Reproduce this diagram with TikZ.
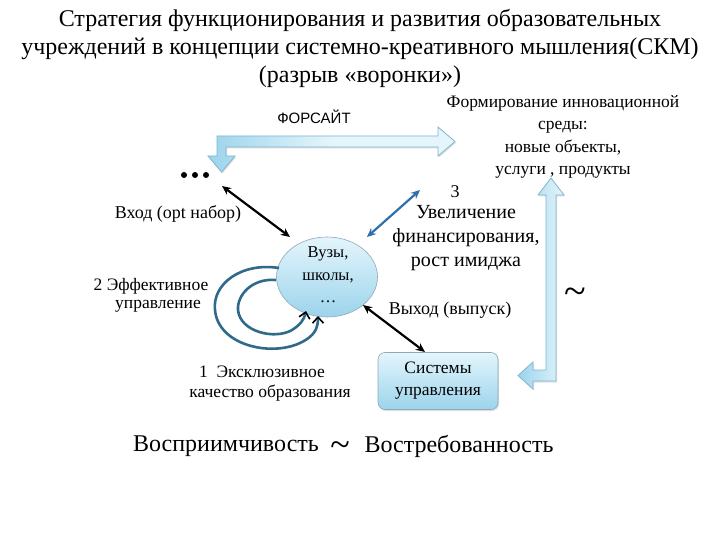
\documentclass[tikz,border=0pt]{standalone}
\usepackage{fontspec}
\setmainfont{Liberation Serif}
\newfontfamily\sansf{Liberation Sans}
\usetikzlibrary{arrows.meta,shadows,shapes.geometric}
\definecolor{loopc}{HTML}{2F6A8A}
\definecolor{bluear}{HTML}{2E6FAE}
\definecolor{fatline}{HTML}{7FB6D0}
\definecolor{fatlight}{HTML}{E4F5FC}
\definecolor{fatdark}{HTML}{9CD4EC}
\definecolor{circline}{HTML}{8FA9B8}
\tikzset{
  fatarrow/.style={draw=fatline, line width=0.8pt, left color=fatdark, right color=fatlight, middle color=fatlight, line join=miter},
  fatarrowv/.style={draw=fatline, line width=0.8pt, top color=fatlight, bottom color=fatdark, line join=miter},
  blk/.style={line width=2.2pt, {Stealth[length=9pt,width=8pt]}-{Stealth[length=9pt,width=8pt]}},
  blu/.style={line width=2.2pt, color=bluear, {Stealth[length=9pt,width=8pt]}-{Stealth[length=9pt,width=8pt]}},
  loopar/.style={line width=2.6pt, color=loopc, -{Straight Barb[length=6pt,width=11pt,color=black,line width=1.6pt]}},
  lbl/.style={font=\fontsize{18}{20}\selectfont, inner sep=0pt, align=center},
  ttl/.style={font=\fontsize{24}{28}\selectfont, inner sep=0pt},
}
\begin{document}
\begin{tikzpicture}[x=1pt,y=-1pt]
\useasboundingbox[fill=white] (0,0) rectangle (720,540);
% title
\node[ttl] (t1) at (360,21) {Стратегия функционирования и развития образовательных};
\node[ttl] (t2) at (360,49) {учреждений в концепции системно-креативного мышления(СКМ)};
\node[ttl] (t3) at (360,77) {(разрыв «воронки»)};
% top L arrow
\path[fatarrow, drop shadow={opacity=0.25,shadow xshift=1pt,shadow yshift=-1.5pt}]
 (217,136) -- (438,136) -- (438,127) -- (455,141.5) -- (438,156) -- (438,147) -- (226,147)
 -- (226,156) -- (235,156) -- (221.5,172) -- (208,156) -- (217,156) -- cycle;
\node[font=\sansf\fontsize{15}{17}\selectfont, inner sep=0pt] (fors) at (314,117) {ФОРСАЙТ};
% right vertical arrow
\path[fatarrowv, left color=fatdark, right color=fatlight, drop shadow={opacity=0.25,shadow xshift=1pt,shadow yshift=-1.5pt}]
 (551,178) -- (564,195) -- (556,195) -- (556,381) -- (533,381) -- (533,389) -- (518,375.5)
 -- (533,362) -- (533,370) -- (546,370) -- (546,195) -- (538,195) -- cycle;
% top right text
\node[lbl, font=\fontsize{17.5}{22.3}\selectfont] (innov) at (563,137) {Формирование инновационной\\среды:\\новые объекты,\\услуги , продукты};
% dots
\node[inner sep=0pt] (dots) at (195,175) {\tikz[x=1pt,y=1pt]{\foreach \i in {0,11,22} \fill (\i,0) circle (3);}};
% circle
\node[draw=circline, line width=0.6pt, shape=ellipse, minimum width=101pt, minimum height=80pt, inner sep=0pt,
  top color=fatlight, bottom color=fatdark] (uni) at (327,277) {};
\node[lbl, font=\fontsize{16.5}{22.5}\selectfont] (unitext) at (328,275) {Вузы,\\школы,\\\dots};
% loops
\draw[loopar] (279,268) .. controls (240,262) and (212,285) .. (215,310)
  .. controls (218,345) and (270,357) .. (300,343) .. controls (315,336) and (318,328) .. (318,316);
\draw[loopar] (276,280) .. controls (252,278) and (237,295) .. (238,310)
  .. controls (240,332) and (275,340) .. (292,330) .. controls (300,325) and (304,320) .. (306,311);
% arrows
\draw[blk] (222,186) -- (290,237);
\draw[blk] (363,305) -- (425,352);
\draw[blu] (367,237) -- (420,190);
% labels
\node[lbl] (vhod) at (178,214) {Вход (opt набор)};
\node[lbl, font=\fontsize{17.5}{20}\selectfont] (eff1) at (151,286) {2\ Эффективное};
\node[lbl, font=\fontsize{17.5}{20}\selectfont] (eff2) at (158,306) {управление};
\node[lbl, font=\fontsize{17.5}{20}\selectfont] (ex1) at (262,372) {1\ \ Эксклюзивное};
\node[lbl, font=\fontsize{17.5}{20}\selectfont] (ex2) at (270,393) {качество образования};
\node[lbl] (three) at (455,192) {3};
\node[lbl, font=\fontsize{20}{24}\selectfont] (fin) at (466,238) {Увеличение\\финансирования,\\рост имиджа};
\node[lbl] (vyh) at (450,310) {Выход (выпуск)};
% box
\node[draw=circline, line width=0.6pt, rounded corners=7pt, minimum width=120pt, minimum height=57pt,
  top color=fatlight, bottom color=fatdark, drop shadow={opacity=0.25,shadow xshift=1pt,shadow yshift=-1.5pt},
  align=center, font=\fontsize{17.5}{22}\selectfont, inner sep=0pt] (sys) at (438,381) {Системы\\управления};
% tilde
\node[inner sep=0pt, font=\fontsize{40}{40}\selectfont] (tilde1) at (575,296) {\textasciitilde};
% bottom
\node[inner sep=0pt, font=\fontsize{24}{28}\selectfont] (b1) at (226,446) {Восприимчивость};
\node[inner sep=0pt, font=\fontsize{36}{36}\selectfont] (b2) at (340,449) {\textasciitilde};
\node[inner sep=0pt, font=\fontsize{24}{28}\selectfont] (b3) at (459,446) {Востребованность};
\end{tikzpicture}
\end{document}
